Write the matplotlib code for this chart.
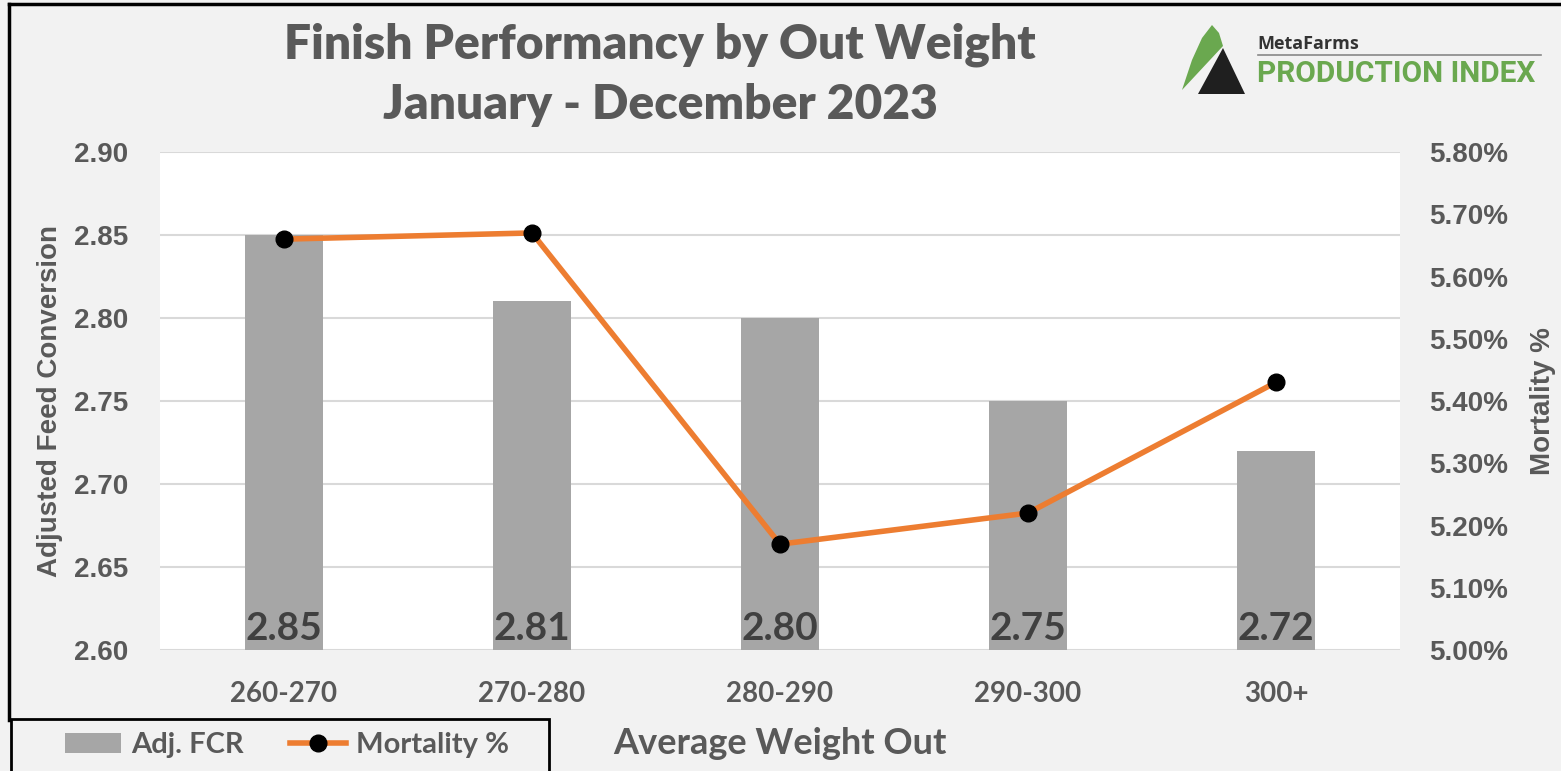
import numpy as np
import matplotlib
matplotlib.use("Agg")
import matplotlib.pyplot as plt
from matplotlib.patches import Polygon, Rectangle, Patch
from matplotlib.lines import Line2D
from matplotlib.ticker import FuncFormatter

# data
weights = ["260-270", "270-280", "280-290", "290-300", "300+"]
adj_fcr = [2.85, 2.81, 2.80, 2.75, 2.72]
mortality = [5.66, 5.67, 5.17, 5.22, 5.43]   # percent

W, H = 1561, 771
BG = "#f2f2f2"
TXT = "#595959"
BAR = "#a6a6a6"
ORANGE = "#ed7d31"
GREEN = "#6aa84f"
LABEL_FONT = "Lato"
TICK_FONT = "Liberation Sans"


def fx(px):
    return px / W


def fy(py):
    return 1 - py / H


fig = plt.figure(figsize=(W / 100, H / 100), dpi=100, facecolor=BG)
ax = fig.add_axes([fx(160), fy(650), fx(1400) - fx(160), fy(152) - fy(650)])
ax.set_facecolor("white")

x = np.arange(len(weights))
bars = ax.bar(x, adj_fcr, width=0.315, color=BAR, zorder=2)
ax.set_ylim(2.60, 2.90)
ax.set_xlim(-0.5, len(weights) - 0.5)
ax.set_yticks(np.arange(2.60, 2.901, 0.05))
ax.yaxis.set_major_formatter(FuncFormatter(lambda v, p: f"{v:.2f}"))
ax.grid(axis="y", color="#d9d9d9", linewidth=1.5, zorder=0)
ax.set_axisbelow(True)
for s in ax.spines.values():
    s.set_visible(False)
ax.tick_params(length=0)
ax.tick_params(axis="y", pad=23)
ax.tick_params(axis="x", pad=22)
ax.set_xticks(x)
ax.set_xticklabels(weights, fontsize=20, fontweight="bold", color=TXT,
                   family=LABEL_FONT)
for lab in ax.get_yticklabels():
    lab.set_fontsize(20)
    lab.set_fontweight("bold")
    lab.set_color(TXT)
    lab.set_family(TICK_FONT)
ax.set_ylabel("Adjusted Feed Conversion", fontsize=20, fontweight="bold",
              color=TXT, family=TICK_FONT, labelpad=8)

# value labels at the foot of the bars
for xi, v in zip(x, adj_fcr):
    ax.text(xi, 2.6 + 0.013, f"{v:.2f}", ha="center", va="center",
            fontsize=28, fontweight="bold", color="#404040", family=LABEL_FONT,
            zorder=3)

ax2 = ax.twinx()
ax2.plot(x, mortality, color=ORANGE, linewidth=4, marker="o", markersize=12,
         markerfacecolor="black", markeredgecolor="black", zorder=4)
ax2.set_ylim(5.0, 5.8)
ax2.set_yticks(np.arange(5.0, 5.801, 0.1))
ax2.yaxis.set_major_formatter(FuncFormatter(lambda v, p: f"{v:.2f}%"))
for s in ax2.spines.values():
    s.set_visible(False)
ax2.tick_params(length=0, pad=21)
for lab in ax2.get_yticklabels():
    lab.set_fontsize(20)
    lab.set_fontweight("bold")
    lab.set_color(TXT)
    lab.set_family(TICK_FONT)
ax2.set_ylabel("Mortality %", fontsize=20, fontweight="bold", color=TXT,
               family=TICK_FONT, labelpad=16)

# titles
fig.text(fx(660), fy(45), "Finish Performancy by Out Weight", ha="center",
         va="center", fontsize=34.5, fontweight="heavy", color=TXT, family=LABEL_FONT)
fig.text(fx(660), fy(105), "January - December 2023", ha="center",
         va="center", fontsize=34.5, fontweight="heavy", color=TXT, family=LABEL_FONT)
fig.text(fx(780), fy(744), "Average Weight Out", ha="center", va="center",
         fontsize=26, fontweight="bold", color=TXT, family=LABEL_FONT)

# outer border (left and top)
fig.add_artist(Line2D([fx(9), fx(9)], [fy(4), fy(720)], color="black",
                      linewidth=2.5, transform=fig.transFigure))
fig.add_artist(Line2D([fx(9), fx(1565)], [fy(4), fy(4)], color="black",
                      linewidth=2.5, transform=fig.transFigure))

# legend box
fig.add_artist(Rectangle((fx(11), fy(780)), fx(549) - fx(11), fy(719) - fy(780),
                         facecolor=BG, edgecolor="black", linewidth=2,
                         transform=fig.transFigure, zorder=5))
handles = [Patch(facecolor=BAR, edgecolor="none", label="Adj. FCR"),
           Line2D([], [], color=ORANGE, linewidth=4, marker="o", markersize=12,
                  markerfacecolor="black", markeredgecolor="black",
                  label="Mortality %")]
leg = fig.legend(handles=handles, loc="center", ncol=2,
                 bbox_to_anchor=(fx(287), fy(745)), frameon=False,
                 prop={"family": LABEL_FONT, "weight": "bold", "size": 21},
                 handlelength=1.9, handletextpad=0.35, columnspacing=1.6)
leg.set_zorder(6)
for t in leg.get_texts():
    t.set_color(TXT)

# logo
def poly(pts, color):
    fig.add_artist(Polygon([(fx(a), fy(b)) for a, b in pts], closed=True,
                           facecolor=color, edgecolor="none",
                           transform=fig.transFigure))


poly([(1182, 90), (1192, 60), (1202, 38), (1212, 25), (1219, 33),
      (1223, 46)], GREEN)
poly([(1198, 94), (1223, 48), (1245, 94)], "#1f1f1f")
fig.text(fx(1257), fy(44), "MetaFarms", ha="left", va="center",
         fontsize=13, fontweight="bold", color="#333333", family="Open Sans")
fig.add_artist(Line2D([fx(1258), fx(1541)], [fy(55), fy(55)], color="#888888",
                      linewidth=1.2, transform=fig.transFigure))
fig.text(fx(1257), fy(74), "PRODUCTION INDEX", ha="left", va="center",
         fontsize=21.5, fontweight="bold", color=GREEN, family="Roboto")

fig.savefig("out.png", dpi=100, facecolor=BG)
